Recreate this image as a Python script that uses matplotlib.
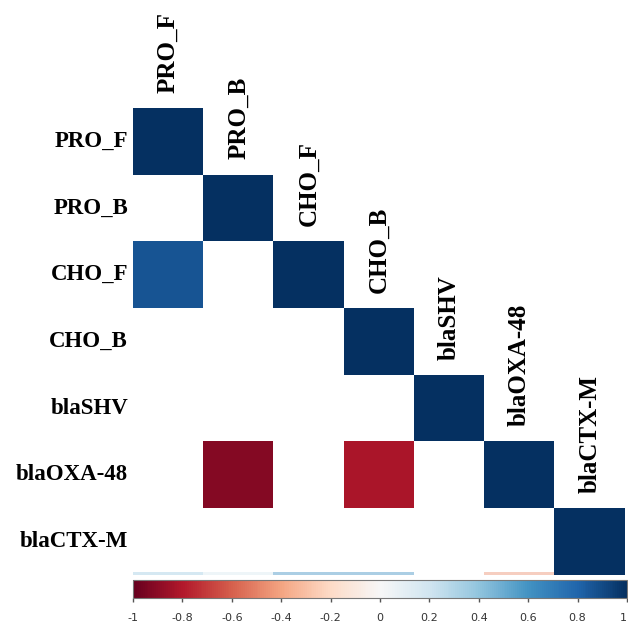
"""
Lower-triangle correlation plot (corrplot style) of detection variables.
"""

import numpy as np
import matplotlib.pyplot as plt
from matplotlib.colors import Normalize
from matplotlib.cm import ScalarMappable

variables = ["PRO_F", "PRO_B", "CHO_F", "CHO_B", "blaSHV", "blaOXA-48", "blaCTX-M"]

# lower triangle of significant coefficients (NaN = blank / not significant)
corr_rows = [
    [1.00, np.nan, np.nan, np.nan, np.nan, np.nan, np.nan],
    [np.nan, 1.00, np.nan, np.nan, np.nan, np.nan, np.nan],
    [0.86, np.nan, 1.00, np.nan, np.nan, np.nan, np.nan],
    [np.nan, np.nan, np.nan, 1.00, np.nan, np.nan, np.nan],
    [np.nan, np.nan, np.nan, np.nan, 1.00, np.nan, np.nan],
    [np.nan, -0.92, np.nan, -0.82, np.nan, 1.00, np.nan],
    [np.nan, np.nan, np.nan, np.nan, np.nan, np.nan, 1.00],
]

# faint strip left along the bottom of the matrix in the source image
strip_values = [0.35, 0.15, 0.6, 0.6, np.nan, -0.45, np.nan]

cbar_ticks = [-1, -0.8, -0.6, -0.4, -0.2, 0, 0.2, 0.4, 0.6, 0.8, 1]
cbar_labels = ["-1", "-0.8", "-0.6", "-0.4", "-0.2", "0", "0.2", "0.4", "0.6", "0.8", "1"]

W, H = 628, 623


def fig_box(x0, y0, x1, y1):
    # pixel box (top-left origin) -> figure fraction rect
    return [x0 / W, (H - y1) / H, (x1 - x0) / W, (y1 - y0) / H]


fig = plt.figure(figsize=(W / 100, H / 100), dpi=100)
cmap = plt.get_cmap("RdBu")
norm = Normalize(vmin=-1, vmax=1)

row_font = {"family": "Liberation Serif", "weight": "bold", "size": 16.5}
col_font = {"family": "Liberation Serif", "weight": "bold", "size": 18}

ax = fig.add_axes(fig_box(133, 108, 625, 575))
data = np.ma.masked_invalid(np.array(corr_rows))
ax.imshow(data, cmap=cmap, norm=norm, aspect="auto", interpolation="nearest")
ax.set_xlim(-0.5, len(variables) - 0.5)
ax.set_ylim(len(variables) - 0.5, -0.5)
for spine in ax.spines.values():
    spine.set_visible(False)
ax.set_xticks([])
ax.set_yticks([])

# row labels on the left, column labels above the diagonal
for i, name in enumerate(variables):
    ax.text(-0.57, i, name, ha="right", va="center", fontdict=row_font)
    ax.text(i, i - 0.73, name, ha="center", va="bottom", rotation=90, fontdict=col_font)

# thin faint strip at the bottom edge of the last row
ax_strip = fig.add_axes(fig_box(133, 572, 625, 575))
ax_strip.imshow(np.ma.masked_invalid(np.array([strip_values])), cmap=cmap, norm=norm,
                aspect="auto", alpha=0.45, interpolation="nearest")
ax_strip.axis("off")

# colorbar
cax = fig.add_axes(fig_box(133, 580, 627, 598))
sm = ScalarMappable(norm=norm, cmap=cmap)
cbar = fig.colorbar(sm, cax=cax, orientation="horizontal", ticks=cbar_ticks)
cbar.ax.set_xticklabels(cbar_labels)
cbar.ax.tick_params(labelsize=8, length=3, width=1, color="#555555",
                    labelcolor="#333333", pad=8)
cbar.ax.get_xticklabels()[-1].set_horizontalalignment("right")
cbar.outline.set_edgecolor("#777777")
cbar.outline.set_linewidth(0.8)

fig.savefig("out.png", dpi=100)
